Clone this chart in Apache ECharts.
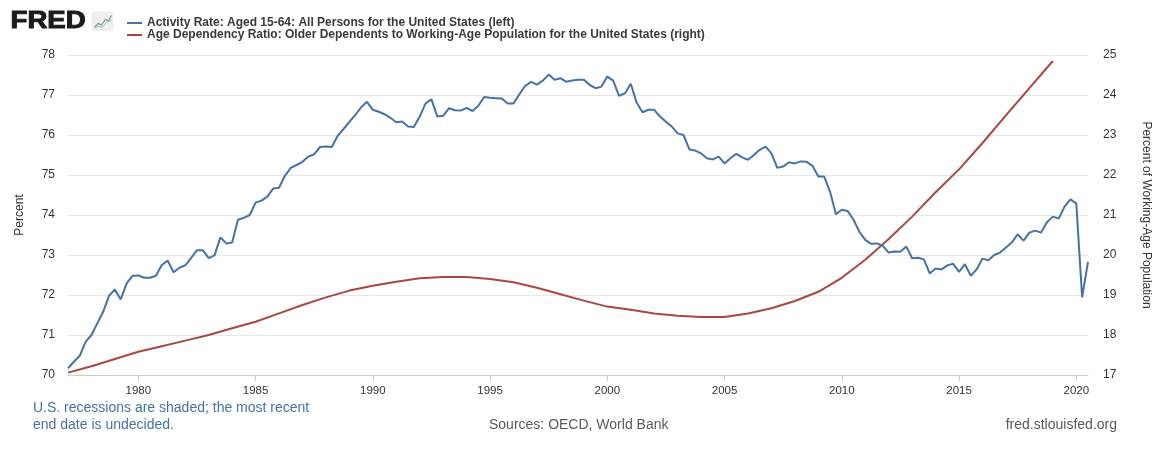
<!DOCTYPE html>
<html>
<head>
<meta charset="utf-8">
<script src="https://cdn.jsdelivr.net/npm/echarts@6/dist/echarts.min.js"></script>
<style>
html,body{margin:0;padding:0;background:#ffffff;}
#chart{width:1168px;height:450px;}
</style>
</head>
<body>
<div id="chart"></div>
<script>
// ---- Data ----
const seriesNames = [
  'Activity Rate: Aged 15-64: All Persons for the United States (left)',
  'Age Dependency Ratio: Older Dependents to Working-Age Population for the United States (right)'
];

// Quarterly, 1977Q1 .. 2020Q3 (percent)
const activityStartYear = 1977;
const activityRate = [
  70.17, 70.33, 70.48, 70.83,
  71.00, 71.29, 71.58, 71.98,
  72.14, 71.89, 72.29, 72.48,
  72.49, 72.43, 72.43, 72.48,
  72.75, 72.86, 72.57, 72.68,
  72.74, 72.92, 73.12, 73.12,
  72.92, 72.99, 73.44, 73.29,
  73.31, 73.88, 73.93, 74.00,
  74.31, 74.36, 74.46, 74.66,
  74.68, 74.98, 75.18, 75.25,
  75.33, 75.46, 75.52, 75.70,
  75.71, 75.70, 75.98, 76.15,
  76.33, 76.50, 76.69, 76.83,
  76.63, 76.58, 76.52, 76.43,
  76.32, 76.34, 76.21, 76.20,
  76.46, 76.79, 76.89, 76.46,
  76.48, 76.67, 76.62, 76.61,
  76.68, 76.60, 76.73, 76.95,
  76.93, 76.92, 76.91, 76.79,
  76.79, 77.02, 77.23, 77.33,
  77.26, 77.36, 77.51, 77.38,
  77.42, 77.33, 77.36, 77.38,
  77.38, 77.25, 77.17, 77.21,
  77.46, 77.36, 76.98, 77.04,
  77.28, 76.81, 76.57, 76.63,
  76.63, 76.46, 76.33, 76.21,
  76.04, 76.00, 75.64, 75.61,
  75.54, 75.42, 75.39, 75.46,
  75.29, 75.42, 75.53, 75.44,
  75.38, 75.50, 75.63, 75.71,
  75.54, 75.18, 75.21, 75.32,
  75.29, 75.34, 75.33, 75.23,
  74.96, 74.96, 74.58, 74.02,
  74.13, 74.10, 73.88, 73.58,
  73.38, 73.28, 73.29, 73.23,
  73.06, 73.09, 73.08, 73.21,
  72.92, 72.93, 72.89, 72.54,
  72.66, 72.64, 72.74, 72.78,
  72.58, 72.77, 72.48, 72.64,
  72.91, 72.87, 73.00, 73.06,
  73.19, 73.31, 73.52, 73.36,
  73.56, 73.61, 73.56, 73.82,
  73.96, 73.91, 74.21, 74.39,
  74.29, 71.94, 72.83
];

// Annual, 1977 .. 2019 (percent of working-age population)
const dependencyYears = [
  1977, 1978, 1979, 1980, 1981, 1982, 1983, 1984, 1985, 1986,
  1987, 1988, 1989, 1990, 1991, 1992, 1993, 1994, 1995, 1996,
  1997, 1998, 1999, 2000, 2001, 2002, 2003, 2004, 2005, 2006,
  2007, 2008, 2009, 2010, 2011, 2012, 2013, 2014, 2015, 2016,
  2017, 2018, 2019
];
const dependencyRatio = [
  17.06, 17.22, 17.40, 17.58, 17.72, 17.86, 18.00, 18.17, 18.33, 18.54,
  18.75, 18.94, 19.11, 19.23, 19.33, 19.42, 19.45, 19.45, 19.40, 19.32,
  19.18, 19.02, 18.86, 18.71, 18.63, 18.54, 18.48, 18.45, 18.45, 18.54,
  18.67, 18.85, 19.08, 19.43, 19.88, 20.40, 20.96, 21.57, 22.14, 22.80,
  23.49, 24.17, 24.85
];

const xTickYears = [1980, 1985, 1990, 1995, 2000, 2005, 2010, 2015, 2020];
const leftAxisRange = [70, 78];
const rightAxisRange = [17, 25];

const footnoteLines = ['U.S. recessions are shaded; the most recent', 'end date is undecided.'];
const sourceText = 'Sources: OECD, World Bank';
const siteText = 'fred.stlouisfed.org';

// ---- Build ----
const activityData = activityRate.map((v, i) => [activityStartYear + i * 0.25, v]);
const dependencyData = dependencyRatio.map((v, i) => [dependencyYears[i], v]);

const FONT = '"Liberation Sans", Arial, Helvetica, sans-serif';
const BLUE = '#4572a7';
const RED = '#aa4643';

const chart = echarts.init(document.getElementById('chart'), null, {renderer: 'canvas'});

chart.setOption({
  backgroundColor: '#ffffff',
  animation: false,
  textStyle: {fontFamily: FONT},
  legend: {
    orient: 'vertical',
    left: 122,
    top: 12,
    itemGap: 0,
    itemWidth: 15,
    itemHeight: 2,
    icon: 'rect',
    textStyle: {fontSize: 12, fontWeight: 'bold', color: '#3a3a3a', fontFamily: FONT, padding: [0, 0, 0, 0]},
    data: [
      {name: seriesNames[0], itemStyle: {color: BLUE}},
      {name: seriesNames[1], itemStyle: {color: RED}}
    ]
  },
  grid: {left: 68, right: 80, top: 55, bottom: 75},
  xAxis: {
    type: 'value',
    min: 1977,
    max: 2020.5,
    splitLine: {show: false},
    axisLine: {show: true, lineStyle: {color: '#cccccc', width: 1}},
    axisTick: {show: true, customValues: xTickYears, length: 6, lineStyle: {color: '#cccccc'}},
    axisLabel: {
      customValues: xTickYears,
      formatter: v => String(Math.round(v)),
      fontSize: 11.5,
      color: '#333333',
      margin: 10
    }
  },
  yAxis: [
    {
      type: 'value',
      min: leftAxisRange[0],
      max: leftAxisRange[1],
      interval: 1,
      position: 'left',
      name: 'Percent',
      nameLocation: 'middle',
      nameRotate: 90,
      nameGap: 42,
      nameTextStyle: {fontSize: 12, color: '#333333'},
      axisLine: {show: false},
      axisTick: {show: false},
      axisLabel: {fontSize: 12, color: '#333333', margin: 13},
      splitLine: {show: true, lineStyle: {color: '#e6e6e6', width: 1}}
    },
    {
      type: 'value',
      min: rightAxisRange[0],
      max: rightAxisRange[1],
      interval: 1,
      position: 'right',
      name: 'Percent of Working-Age Population',
      nameLocation: 'middle',
      nameRotate: -90,
      nameGap: 52,
      nameTextStyle: {fontSize: 12, color: '#333333'},
      axisLine: {show: false},
      axisTick: {show: false},
      axisLabel: {fontSize: 12, color: '#333333', margin: 15},
      splitLine: {show: false}
    }
  ],
  series: [
    {
      name: seriesNames[0],
      type: 'line',
      yAxisIndex: 0,
      data: activityData,
      showSymbol: false,
      symbol: 'none',
      lineStyle: {color: BLUE, width: 2},
      itemStyle: {color: BLUE},
      z: 3
    },
    {
      name: seriesNames[1],
      type: 'line',
      yAxisIndex: 1,
      data: dependencyData,
      showSymbol: false,
      symbol: 'none',
      lineStyle: {color: RED, width: 2},
      itemStyle: {color: RED},
      z: 2
    }
  ],
  graphic: [
    {
      type: 'text', left: 10, top: 10,
      scaleX: 1.2,
      style: {text: 'FRED', font: 'bold 23px ' + FONT, fill: '#1a1a1a', stroke: '#1a1a1a', lineWidth: 0.9}
    },
    {
      type: 'group', left: 92, top: 12,
      children: [
        {type: 'rect', shape: {x: 0, y: 0, width: 20, height: 18, r: 2}, style: {fill: '#eef1ee', stroke: '#d8ddd8', lineWidth: 0.5}},
        {type: 'polyline', shape: {points: [[2, 15], [6, 11], [9, 13], [13, 7], [16, 9], [19, 3]]}, style: {stroke: '#7a9a8a', lineWidth: 1.2, fill: null}},
        {type: 'polyline', shape: {points: [[2, 16], [6, 14], [10, 15], [14, 10], [19, 8]]}, style: {stroke: '#a8c0b4', lineWidth: 1, fill: null}}
      ]
    },
    {
      type: 'text', left: 33, top: 400,
      style: {text: footnoteLines.join('\n'), font: '14px ' + FONT, fill: '#4572a7', lineHeight: 16.5}
    },
    {
      type: 'text', left: 489, top: 418,
      style: {text: sourceText, font: '14px ' + FONT, fill: '#595959'}
    },
    {
      type: 'text', right: 51, top: 418,
      style: {text: siteText, font: '14px ' + FONT, fill: '#595959'}
    }
  ]
});
</script>
</body>
</html>
